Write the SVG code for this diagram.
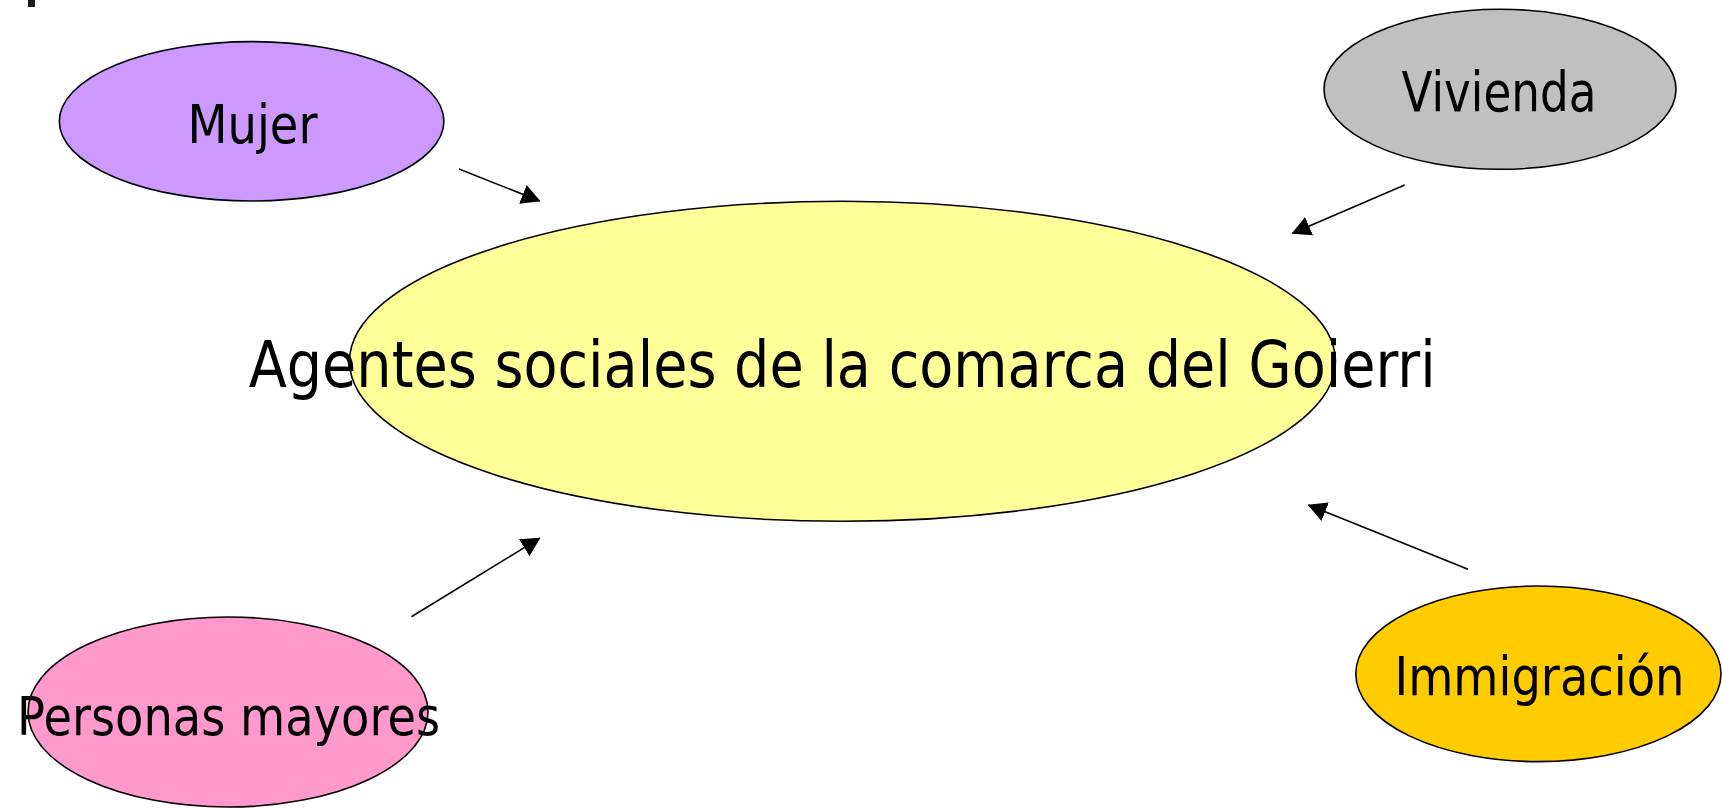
<svg xmlns="http://www.w3.org/2000/svg" width="1722" height="808" viewBox="0 0 1722 808">
<style>
.node ellipse{stroke:#000;stroke-width:1.6}
.lbl{font-family:"DejaVu Sans","Liberation Sans",sans-serif;fill:#000;text-anchor:middle}
.conn line{stroke:#000;stroke-width:1.6;fill:none}
</style>
<defs>
<marker id="ah" markerUnits="userSpaceOnUse" markerWidth="20" markerHeight="20" refX="18" refY="10" orient="auto">
<path d="M0,0 L19,10 L0,20 z" fill="#000"/>
</marker>
</defs>
<rect width="1722" height="808" fill="#fff"/>
<rect x="28" y="0" width="7" height="7" fill="#1a1a1a"/>
<g id="agentes" class="node">
<ellipse cx="842.5" cy="361.3" rx="493" ry="160" fill="#FFFF99"/>
<text class="lbl" x="842.2" y="386.7" font-size="64" textLength="1187" lengthAdjust="spacingAndGlyphs">Agentes sociales de la comarca del Goierri</text>
</g>
<g id="mujer" class="node">
<ellipse cx="251.6" cy="121.3" rx="192.3" ry="79.7" fill="#CC99FF"/>
<text class="lbl" x="252.5" y="142.7" font-size="54" textLength="130" lengthAdjust="spacingAndGlyphs">Mujer</text>
</g>
<g id="vivienda" class="node">
<ellipse cx="1500" cy="89.3" rx="176" ry="80" fill="#C0C0C0"/>
<text class="lbl" x="1499" y="110.7" font-size="55" textLength="195" lengthAdjust="spacingAndGlyphs">Vivienda</text>
</g>
<g id="immigracion" class="node">
<ellipse cx="1538.4" cy="673.8" rx="182.6" ry="87.8" fill="#FFCC00"/>
<text class="lbl" x="1539.5" y="695" font-size="53" textLength="290" lengthAdjust="spacingAndGlyphs">Immigración</text>
</g>
<g id="personas" class="node">
<ellipse cx="228" cy="712" rx="200" ry="95" fill="#FF99CC"/>
<text class="lbl" x="228.6" y="735" font-size="54" textLength="423" lengthAdjust="spacingAndGlyphs">Personas mayores</text>
</g>
<g id="connectors" class="conn">
<line x1="459" y1="169" x2="539.6" y2="201" marker-end="url(#ah)"/>
<line x1="1404.7" y1="185" x2="1292.5" y2="233.3" marker-end="url(#ah)"/>
<line x1="1468" y1="569.3" x2="1308.5" y2="505" marker-end="url(#ah)"/>
<line x1="411.4" y1="616.7" x2="539.6" y2="538.3" marker-end="url(#ah)"/>
</g>
</svg>
